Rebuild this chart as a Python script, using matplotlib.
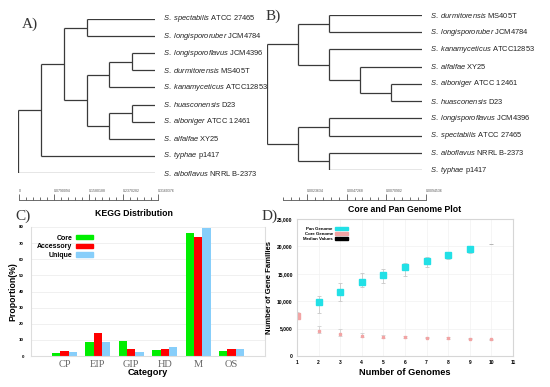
import matplotlib
matplotlib.use("Agg")
import matplotlib.pyplot as plt
import numpy as np
from matplotlib.patches import Patch
from matplotlib.ticker import FuncFormatter, MultipleLocator

plt.rcParams['font.family'] = ['Liberation Sans', 'DejaVu Sans']
plt.rcParams['mathtext.fontset'] = 'custom'
plt.rcParams['mathtext.rm'] = 'Liberation Sans'
plt.rcParams['mathtext.it'] = 'Liberation Sans:italic'

NARROW = ['Liberation Sans Narrow', 'Liberation Sans']

# ---- data ----
strains = {
    'spectabilis': 'ATCC 27465', 'longispororuber': 'JCM4784',
    'longisporoflavus': 'JCM4396', 'durmitorensis': 'MS405T',
    'kanamyceticus': 'ATCC12853', 'huasconensis': 'D23',
    'alboniger': 'ATCC 12461', 'alfalfae': 'XY25',
    'typhae': 'p1417', 'alboflavus': 'NRRL B-2373',
}
# tree topologies (cladograms, node x = nesting depth)
tree_a = ((((('spectabilis', 'longispororuber'),
             ((('longisporoflavus', 'durmitorensis'), 'kanamyceticus'),
              (('huasconensis', 'alboniger'), 'alfalfae'))),
            'typhae'), 'alboflavus'))
tree_b = ((('durmitorensis', 'longispororuber'),
           ('kanamyceticus', ('alfalfae', ('alboniger', 'huasconensis')))),
          (('longisporoflavus', 'spectabilis'), ('alboflavus', 'typhae')))
scale_a = [0, 0.0790094, 0.1580188, 0.2370282, 0.3160376]
scale_a_lab = ['0', '0.0790094', '0.1580188', '0.2370282', '0.3160376']
scale_b = [0.0023634, 0.0047268, 0.0070902, 0.0094536]
scale_b_lab = ['0.0023634', '0.0047268', '0.0070902', '0.0094536']

categories = ['CP', 'EIP', 'GIP', 'HD', 'M', 'OS']
core_pct = [2.0, 8.9, 9.3, 3.7, 76.2, 3.1]
accessory_pct = [2.8, 14.1, 4.3, 4.3, 73.7, 4.3]
unique_pct = [2.3, 8.7, 2.7, 5.4, 79.3, 4.3]

pan_n = [2, 3, 4, 5, 6, 7, 8, 9]
pan = [9800, 11730, 13560, 14780, 16300, 17340, 18430, 19470]
pan_hi = [10950, 13300, 15150, 15900, 17000, 18120, 19030, 19650]
pan_lo = [7850, 10000, 12600, 13300, 14650, 16300, 17700, 18850]
pan_last_n, pan_last = 10, 20380
core_n = [1, 2, 3, 4, 5, 6, 7, 8, 9, 10]
core = [7300, 4560, 4010, 3710, 3530, 3410, 3350, 3230, 3160, 3050]
core_hi = [8000, 5400, 4870, 4200, 3900, 3650, 3500, 3400, 3300, 3100]
core_lo = [6700, 4200, 3700, 3500, 3350, 3250, 3200, 3100, 3050, 3000]

W, H = 550, 387
fig = plt.figure(figsize=(5.5, 3.87), dpi=100)


def box(x0, y0, x1, y1):
    # pixel box -> figure fraction
    return [x0 / W, 1 - y1 / H, (x1 - x0) / W, (y1 - y0) / H]


def max_depth(node, d=0):
    if isinstance(node, str):
        return d
    return max(max_depth(c, d + 1) for c in node)


def draw_tree(ax, tree):
    xmax = max_depth(tree)
    leaves = []
    kw = dict(color='#3a3a3a', lw=0.9, solid_capstyle='butt')

    def walk(node, depth):
        if isinstance(node, str):
            leaves.append(node)
            return len(leaves) - 1, xmax
        ys = []
        for c in node:
            yc, xc = walk(c, depth + 1)
            ax.plot([depth, xc], [yc, yc], **kw)
            ys.append(yc)
        ax.plot([depth, depth], [min(ys), max(ys)], **kw)
        return (min(ys) + max(ys)) / 2, depth

    walk(tree, 0)
    for i, sp in enumerate(leaves):
        lab = r'$\mathit{S.\ ' + sp + '}$ ' + strains[sp]
        ax.annotate(lab, (xmax, i), xytext=(5.5, 0), textcoords='offset points',
                    va='center', ha='left', fontsize=5.4, color='#222')
    ax.set_xlim(0, xmax)
    ax.set_ylim(len(leaves) - 1, 0)
    ax.axis('off')


def draw_scale(ax, ticks, labels, lo):
    ax.set_xlim(lo, ticks[-1])
    ax.set_ylim(0, 1)
    for s in ['top', 'left', 'right']:
        ax.spines[s].set_visible(False)
    ax.spines['bottom'].set_color('#555')
    ax.spines['bottom'].set_linewidth(0.6)
    ax.set_yticks([])
    ax.set_xticks(ticks, labels)
    ax.xaxis.set_minor_locator(MultipleLocator((ticks[1] - ticks[0]) / 5))
    ax.tick_params(axis='x', which='both', direction='in', bottom=True, top=False,
                   labelbottom=False, labeltop=True, color='#555', width=0.6,
                   labelsize=2.5, labelcolor='#555', pad=1)
    ax.tick_params(axis='x', which='major', length=4)
    ax.tick_params(axis='x', which='minor', length=2)
    for t in ax.get_xticklabels():
        t.set_horizontalalignment('left')
    ax.patch.set_alpha(0)


# ---- A ----
ax_a = fig.add_axes(box(18, 19, 155, 173))
draw_tree(ax_a, tree_a)
sa = fig.add_axes(box(19, 194, 158, 200))
draw_scale(sa, scale_a, scale_a_lab, 0)

# ---- B ----
ax_b = fig.add_axes(box(267, 15, 422, 170))
draw_tree(ax_b, tree_b)
sb = fig.add_axes(box(283, 194, 426, 200))
draw_scale(sb, scale_b, scale_b_lab, scale_b[0] - 3 * (scale_b[1] - scale_b[0]) / 5)

# ---- C ----
ax_c = fig.add_axes(box(31, 227, 265, 356))
x = np.arange(1, len(categories) + 1)
bw = 0.25
ax_c.bar(x - bw, core_pct, bw, color='#00ee00', label='Core')
ax_c.bar(x, accessory_pct, bw, color='#ff0000', label='Accessory')
ax_c.bar(x + bw, unique_pct, bw, color='#87cefa', label='Unique')
ax_c.set_xlim(0, 7)
ax_c.set_ylim(0, 80)
ax_c.set_xticks(x, categories)
ax_c.set_yticks(np.arange(0, 81, 10))
ax_c.set_xticks(np.arange(0, 8), minor=True)
ax_c.grid(True, which='minor', axis='x', color='#eeeeee', lw=0.6)
ax_c.grid(True, which='major', axis='y', color='#eeeeee', lw=0.6)
ax_c.set_axisbelow(True)
for s in ax_c.spines.values():
    s.set_color('#dddddd')
    s.set_linewidth(0.8)
ax_c.spines['top'].set_visible(False)
ax_c.tick_params(axis='x', which='both', length=0, labelsize=7.5, labelcolor='#666', pad=3)
ax_c.tick_params(axis='y', length=0, labelsize=3.2, pad=5)
for t in ax_c.get_xticklabels():
    t.set_fontfamily('Liberation Serif')
for t in ax_c.get_yticklabels():
    t.set_fontweight('bold')
ax_c.set_xlabel('Category', fontsize=6.7, fontweight='bold', family=NARROW, labelpad=-1)
ax_c.set_ylabel('Proportion(%)', fontsize=6.3, fontweight='bold', labelpad=1)
ax_c.set_title('KEGG Distribution', fontsize=6.3, fontweight='bold', family=NARROW,
               x=0.44, pad=8)
hc = [Patch(color='#00ee00', label='Core'), Patch(color='#ff0000', label='Accessory'),
      Patch(color='#87cefa', label='Unique')]
ax_c.legend(handles=hc, loc='upper left', bbox_to_anchor=(0.0, 0.99), markerfirst=False,
            frameon=False, prop=dict(size=5, weight='bold', family=NARROW),
            handlelength=2.5, handleheight=0.6, labelspacing=0.25, handletextpad=0.5)

# ---- D ----
ax_d = fig.add_axes(box(297, 219, 513, 356))
ax_d.errorbar(pan_n, pan, yerr=[np.subtract(pan, pan_lo), np.subtract(pan_hi, pan)],
              fmt='none', ecolor='#c8c8c8', elinewidth=0.6, capsize=1.2, capthick=0.6)
ax_d.errorbar(core_n, core, yerr=[np.subtract(core, core_lo), np.subtract(core_hi, core)],
              fmt='none', ecolor='#d0d0d0', elinewidth=0.6, capsize=1.2, capthick=0.6)
ax_d.plot(pan_n, pan, 's', color='#22e0e6', ms=3.8, mec='#22e0e6')
ax_d.plot(core_n[1:], core[1:], 's', color='#f2a4a4', ms=2.0, mec='#f2a4a4')
ax_d.plot(core_n[:1], core[:1], 's', color='#f2a4a4', ms=4.5, mec='#f2a4a4')
ax_d.plot([pan_last_n], [pan_last], '_', color='#aaaaaa', ms=3, mew=0.6)
ax_d.set_xlim(1, 11)
ax_d.set_ylim(0, 25000)
ax_d.set_xticks(range(1, 12))
ax_d.set_yticks(range(0, 25001, 5000))
ax_d.yaxis.set_major_formatter(FuncFormatter(lambda v, p: f'{int(v):,}'))
ax_d.grid(True, color='#f2f2f2', lw=0.5)
ax_d.set_axisbelow(True)
for s in ax_d.spines.values():
    s.set_color('#d6d6d6')
    s.set_linewidth(0.8)
ax_d.tick_params(length=0, labelsize=3.6, pad=3)
for t in ax_d.get_xticklabels() + ax_d.get_yticklabels():
    t.set_fontweight('bold')
ax_d.set_xlabel('Number of Genomes', fontsize=6.7, fontweight='bold', family=NARROW, labelpad=2)
ax_d.set_ylabel('Number of Gene Families', fontsize=5.6, fontweight='bold', labelpad=3)
ax_d.set_title('Core and Pan Genome Plot', fontsize=6.3, fontweight='bold', family=NARROW, pad=5)
hd = [Patch(color='#22e0e6', label='Pan Genome'), Patch(color='#f2a4a4', label='Core Genome'),
      Patch(color='black', label='Median Values')]
ax_d.legend(handles=hd, loc='upper left', bbox_to_anchor=(0.01, 0.97), markerfirst=False,
            frameon=False, prop=dict(size=3.2, weight='bold', family=NARROW),
            handlelength=3.0, handleheight=0.5, labelspacing=0.2, handletextpad=0.5)

# panel letters
for lab, px, py in [('A)', 22, 24), ('B)', 266, 16), ('C)', 15, 216), ('D)', 262, 216)]:
    fig.text(px / W, 1 - py / H, lab, fontsize=11, family='Liberation Serif',
             color='#333', va='center', ha='left')

fig.savefig('out.png', dpi=100)
